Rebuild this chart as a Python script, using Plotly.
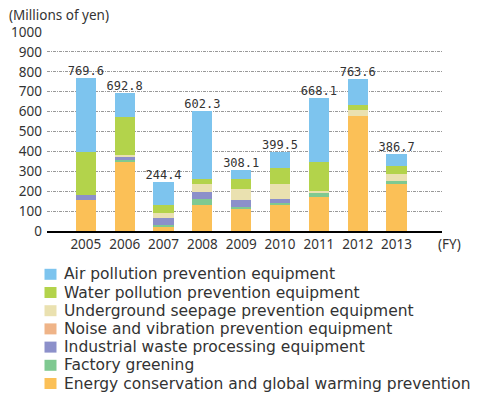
import plotly.graph_objects as go

years = ["2005", "2006", "2007", "2008", "2009", "2010", "2011", "2012", "2013"]
energy = [158, 347, 22, 129, 112, 129, 173, 580, 235]
greening = [0, 12, 8, 31, 7, 13, 17, 0, 15]
waste = [25, 17, 34, 38, 35, 18, 0, 0, 0]
noise = [0, 0, 0, 0, 0, 0, 0, 0, 0]
underground = [0, 5, 28, 37, 57, 75, 13, 29, 37]
water = [216, 191, 38, 28, 52, 84, 146, 24, 40]
air = [370.6, 120.8, 114.4, 339.3, 45.1, 80.5, 319.1, 130.6, 59.7]
totals = [769.6, 692.8, 244.4, 602.3, 308.1, 399.5, 668.1, 763.6, 386.7]
y_ticks = [0, 100, 200, 300, 400, 500, 600, 700, 800, 900, 1000]

series = [
    ("Energy conservation and global warming prevention", energy, "#FBC057"),
    ("Factory greening", greening, "#7FC991"),
    ("Industrial waste processing equipment", waste, "#8C90CA"),
    ("Noise and vibration prevention equipment", noise, "#EFB488"),
    ("Underground seepage prevention equipment", underground, "#EAE1B0"),
    ("Water pollution prevention equipment", water, "#B3D34B"),
    ("Air pollution prevention equipment", air, "#7DC4EE"),
]

W, H = 480, 401
ML, MR, MT, MB = 47, 38, 32, 170
PW, PH = W - ML - MR, H - MT - MB


def px_x(px):
    return (px - ML) / PW


def px_y(py):
    return (H - MB - py) / PH


fig = go.Figure()
for name, vals, col in series:
    fig.add_trace(go.Bar(x=years, y=vals, name=name, marker=dict(color=col, line=dict(width=0)),
                         width=0.52, showlegend=False))

fig.add_trace(go.Scatter(x=years, y=totals, mode="text", text=[f"{v:.1f}" for v in totals],
                         textposition="top center", showlegend=False, hoverinfo="skip",
                         textfont=dict(family="DejaVu Sans Mono", size=12, color="#333")))

annotations = [
    dict(text="(Millions of yen)", x=px_x(7), xref="paper", y=px_y(15), yref="paper",
         showarrow=False, xanchor="left", yanchor="middle",
         font=dict(family="Noto Sans", size=13.5, color="#333")),
    dict(text="(FY)", x=px_x(436), xref="paper", y=px_y(244), yref="paper", showarrow=False,
         xanchor="left", yanchor="middle", font=dict(family="Noto Sans", size=13.5, color="#333")),
]
shapes = []
# manual legend (top to bottom = reversed stack order)
row_y0, row_dy = 274.3, 18.2
for i, (name, vals, col) in enumerate(reversed(series)):
    cy = row_y0 + i * row_dy
    shapes.append(dict(type="rect", xref="paper", yref="paper",
                       x0=px_x(44.5), x1=px_x(56.5), y0=px_y(cy - 5.5), y1=px_y(cy + 5.5),
                       fillcolor=col, line=dict(width=0)))
    annotations.append(dict(text=name, x=px_x(62), xref="paper", y=px_y(cy), yref="paper",
                            showarrow=False, xanchor="left", yanchor="middle",
                            font=dict(family="DejaVu Sans", size=15.5, color="#333")))

fig.update_layout(
    width=W, height=H,
    margin=dict(l=ML, r=MR, t=MT, b=MB),
    barmode="stack",
    plot_bgcolor="white", paper_bgcolor="white",
    font=dict(family="Noto Sans", size=13.5, color="#333"),
    showlegend=False,
    xaxis=dict(type="category", range=[-1, 9.17], showline=True, linecolor="black", linewidth=2,
               ticks="", showgrid=False, tickfont=dict(size=13.5)),
    yaxis=dict(range=[0, 1000], tickvals=y_ticks, showgrid=True, gridcolor="#999",
               griddash="3px,1px,1px,1px", gridwidth=1, zeroline=False, ticks="",
               tickfont=dict(size=13.5), ticklabelstandoff=4),
    annotations=annotations,
    shapes=shapes,
)

fig.write_html("out.html")
